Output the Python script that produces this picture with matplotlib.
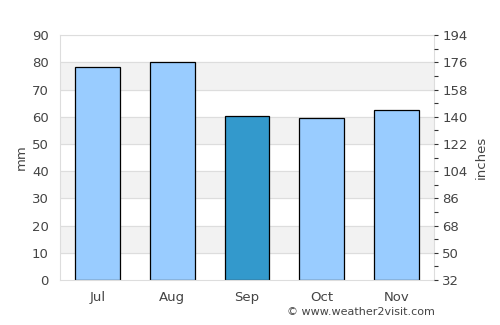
import matplotlib.pyplot as plt
import numpy as np

months = ['Jul', 'Aug', 'Sep', 'Oct', 'Nov']
rain_mm = [78.2, 80.1, 60.2, 59.5, 62.4]
highlight = 'Sep'
right_labels = [32, 50, 68, 86, 104, 122, 140, 158, 176, 194]

txt = '#444444'
fig = plt.figure(figsize=(5, 3.25), dpi=100)
ax = fig.add_axes([0.12, 0.1385, 0.748, 0.7535])

x = np.arange(len(months))
colors = ['#3399cc' if m == highlight else '#99ccff' for m in months]

# alternating bands
for lo in range(10, 90, 20):
  ax.axhspan(lo, lo + 10, color='#f2f2f2', zorder=0)
for y in range(10, 100, 10):
  ax.axhline(y, color='#dddddd', lw=0.8, zorder=0.5)

ax.bar(x, rain_mm, width=0.6, color=colors, edgecolor='black', lw=0.9, zorder=2)

ax.set_xlim(-0.5, 4.5)
ax.set_ylim(0, 90)
ax.set_xticks(x)
ax.set_xticklabels(months, color=txt, fontsize=9.5)
ax.set_yticks(range(0, 100, 10))
ax.tick_params(axis='y', length=0, labelsize=9.5, labelcolor=txt, pad=8)
ax.tick_params(axis='x', length=0, pad=8)
ax.set_ylabel('mm', color=txt, fontsize=9.5, labelpad=3)
for s in ax.spines.values():
  s.set_color('#dddddd')
  s.set_linewidth(0.8)

ax2 = ax.twinx()
ax2.set_ylim(0, 90)
ax2.set_yticks(range(0, 100, 10))
ax2.set_yticklabels([str(v) for v in right_labels])
ax2.set_yticks(range(5, 90, 10), minor=True)
ax2.tick_params(axis='y', which='both', length=3, width=0.8, color='#333333',
                labelsize=9.5, labelcolor=txt, pad=3)
ax2.set_ylabel('inches', color=txt, fontsize=9.5, labelpad=5)
for s in ax2.spines.values():
  s.set_visible(False)

fig.text(0.87, 0.025, '© www.weather2visit.com', ha='right', va='bottom',
         color=txt, fontsize=8)

fig.savefig('out.png', dpi=100)
